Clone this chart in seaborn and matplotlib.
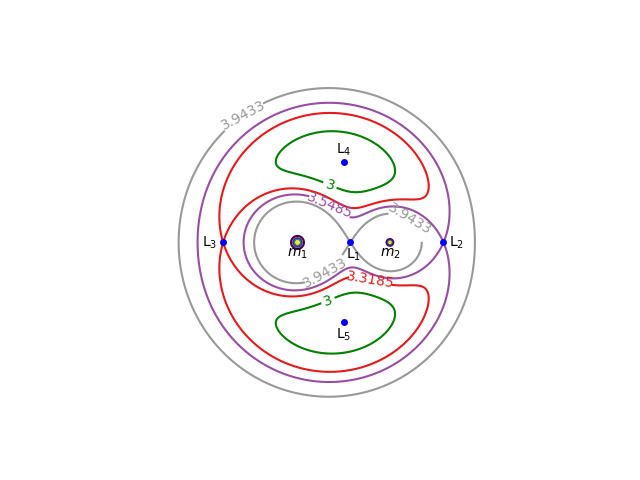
import numpy as np
import matplotlib
matplotlib.use("Agg")
import matplotlib.pyplot as plt
import seaborn as sns

# mass ratio of the restricted three body problem (m2 / (m1 + m2))
mu = 0.33

# Jacobi constant levels
levels = [3.0, 3.3185, 3.5485, 3.9433]
level_colors = ["green", "#e41a1c", "#984ea3", "#999999"]

# high levels drawn around the primaries
mass_levels = [20, 30, 50, 90]

# Lagrange points
lag_names = ["L$_1$", "L$_2$", "L$_3$", "L$_4$", "L$_5$"]
lag_x = [0.2423, 1.2498, -1.135, 0.5 - mu, 0.5 - mu]
lag_y = [0.0, 0.0, 0.0, 0.866, -0.866]

# label positions for the contour labels
label_pos = [(-0.92, 1.38), (0.89, 0.27), (-0.03, -0.33), (0.02, 0.40),
             (0.46, -0.41), (0.02, 0.62), (0.0, -0.63)]

sns.set_style("white")

x = np.linspace(-2, 2, 1201)
y = np.linspace(-2, 2, 1201)
X, Y = np.meshgrid(x, y)
r1 = np.sqrt((X + mu) ** 2 + Y ** 2)
r2 = np.sqrt((X - 1 + mu) ** 2 + Y ** 2)
C = X ** 2 + Y ** 2 + 2 * (1 - mu) / r1 + 2 * mu / r2

fig, ax = plt.subplots(figsize=(6.4, 4.8), dpi=100)

cs = ax.contour(X, Y, C, levels=levels, colors=level_colors, linewidths=1.5)
ax.clabel(cs, fmt="%g", fontsize=10, inline=True, manual=label_pos)

ax.contour(X, Y, C, levels=mass_levels, cmap="viridis", linewidths=1.5)

ax.plot(lag_x, lag_y, "o", color="blue", markersize=4)
offsets = [(-3, -3, "left", "top"), (4, 0, "left", "center"),
           (-4, 0, "right", "center"), (0, 3, "center", "bottom"),
           (0, -3, "center", "top")]
for name, lx, ly, (dx, dy, ha, va) in zip(lag_names, lag_x, lag_y, offsets):
    ax.annotate(name, (lx, ly), xytext=(dx, dy), textcoords="offset points",
                ha=ha, va=va, fontsize=10, color="black")

ax.annotate("$m_1$", (-mu, 0), xytext=(0, -3), textcoords="offset points",
            ha="center", va="top", fontsize=10, color="black")
ax.annotate("$m_2$", (1 - mu, 0), xytext=(0, -3), textcoords="offset points",
            ha="center", va="top", fontsize=10, color="black")

ax.set_aspect("equal")
ax.axis("off")

plt.savefig("out.png", dpi=100)
